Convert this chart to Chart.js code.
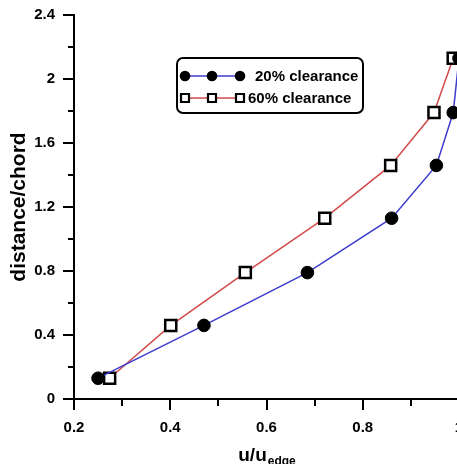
<!DOCTYPE html>
<html>
<head>
<meta charset="utf-8">
<script src="https://cdn.jsdelivr.net/npm/chart.js@4/dist/chart.umd.min.js"></script>
<style>
  html, body { margin: 0; padding: 0; background: #fff; overflow: hidden; }
  #wrap { width: 457px; height: 464px; overflow: hidden; }
</style>
</head>
<body>
<div id="wrap"><canvas id="chart" width="475" height="464"></canvas></div>
<script>
// distance/chord at each measured station (same for both runs)
const distance = [0.13, 0.46, 0.79, 1.13, 1.46, 1.79, 2.13];
// u/u_edge
const clearance20 = [0.25, 0.47, 0.685, 0.86, 0.953, 0.988, 1.0];
const clearance60 = [0.274, 0.401, 0.556, 0.721, 0.858, 0.948, 0.988];
const seriesLabels = ["20% clearance", "60% clearance"];

const xTickValues = [0.2, 0.4, 0.6, 0.8, 1.0];
const xTickLabels = ["0.2", "0.4", "0.6", "0.8", "1"];
const yTickValues = [0, 0.4, 0.8, 1.2, 1.6, 2.0, 2.4];
const yTickLabels = ["0", "0.4", "0.8", "1.2", "1.6", "2", "2.4"];

const FONT = "'Liberation Sans', Arial, sans-serif";

function labelFor(values, labels, v) {
  for (let i = 0; i < values.length; i++) {
    if (Math.abs(values[i] - v) < 1e-6) return labels[i];
  }
  return "";
}

function points(xs, ys) {
  return xs.map((x, i) => ({ x: x, y: ys[i] }));
}

// major / minor tick marks, outside the axes
const tickMarks = {
  id: "tickMarks",
  afterDraw(chart) {
    const ctx = chart.ctx;
    const xs = chart.scales.x;
    const ys = chart.scales.y;
    ctx.save();
    ctx.strokeStyle = "#000";
    ctx.lineWidth = 2;
    xs.ticks.forEach((t) => {
      const px = Math.round(xs.getPixelForValue(t.value));
      const major = labelFor(xTickValues, xTickLabels, t.value) !== "";
      ctx.beginPath();
      ctx.moveTo(px, xs.top);
      ctx.lineTo(px, xs.top + (major ? 11 : 7));
      ctx.stroke();
    });
    ys.ticks.forEach((t) => {
      const py = Math.round(ys.getPixelForValue(t.value));
      const major = labelFor(yTickValues, yTickLabels, t.value) !== "";
      ctx.beginPath();
      ctx.moveTo(ys.right, py);
      ctx.lineTo(ys.right - (major ? 11 : 6), py);
      ctx.stroke();
    });
    ctx.restore();
  },
};

// x title with subscript
const xTitle = {
  id: "xTitle",
  afterDraw(chart) {
    const ctx = chart.ctx;
    const area = chart.chartArea;
    ctx.save();
    ctx.fillStyle = "#000";
    ctx.textBaseline = "alphabetic";
    ctx.font = "bold 19px " + FONT;
    const main = "u/u";
    const w1 = ctx.measureText(main).width;
    ctx.font = "bold 12px " + FONT;
    const sub = "edge";
    const w2 = ctx.measureText(sub).width;
    const x0 = (area.left + area.right) / 2 - (w1 + w2) / 2;
    ctx.font = "bold 19px " + FONT;
    ctx.fillText(main, x0, 461);
    ctx.font = "bold 12px " + FONT;
    ctx.fillText(sub, x0 + w1 + 1, 465);
    ctx.restore();
  },
};

// boxed legend with three markers per line
const boxLegend = {
  id: "boxLegend",
  afterDatasetsDraw(chart) {
    const ctx = chart.ctx;
    ctx.save();
    ctx.fillStyle = "#fff";
    ctx.strokeStyle = "#000";
    ctx.lineWidth = 2;
    ctx.beginPath();
    ctx.roundRect(177, 58, 186, 55, 6);
    ctx.fill();
    ctx.stroke();

    chart.data.datasets.forEach((ds, i) => {
      const y = 76 + i * 22;
      ctx.strokeStyle = ds.borderColor;
      ctx.lineWidth = 1.5;
      ctx.beginPath();
      ctx.moveTo(185, y);
      ctx.lineTo(240, y);
      ctx.stroke();
      [185, 212, 240].forEach((mx) => {
        ctx.beginPath();
        if (ds.pointStyle === "circle") {
          ctx.fillStyle = "#000";
          ctx.arc(mx, y, 5.3, 0, Math.PI * 2);
          ctx.fill();
        } else {
          ctx.fillStyle = "#fff";
          ctx.strokeStyle = "#000";
          ctx.lineWidth = 2.2;
          ctx.rect(mx - 4, y - 4, 8, 8);
          ctx.fill();
          ctx.stroke();
        }
      });
      ctx.fillStyle = "#000";
      ctx.font = "bold 15px " + FONT;
      ctx.textBaseline = "middle";
      ctx.fillText(ds.label, i === 0 ? 255 : 248, y + 1);
    });
    ctx.restore();
  },
};

new Chart(document.getElementById("chart"), {
  type: "scatter",
  data: {
    datasets: [
      {
        label: seriesLabels[0],
        data: points(clearance20, distance),
        showLine: true,
        borderColor: "rgb(60, 60, 205)",
        borderWidth: 1.5,
        pointStyle: "circle",
        pointRadius: 6.3,
        pointBackgroundColor: "#000",
        pointBorderColor: "#000",
        pointBorderWidth: 1,
        clip: false,
      },
      {
        label: seriesLabels[1],
        data: points(clearance60, distance),
        showLine: true,
        borderColor: "rgb(210, 75, 75)",
        borderWidth: 1.5,
        pointStyle: "rect",
        pointRadius: 7.8,
        pointBackgroundColor: "#fff",
        pointBorderColor: "#000",
        pointBorderWidth: 2.5,
        clip: false,
      },
    ],
  },
  options: {
    responsive: false,
    animation: false,
    devicePixelRatio: 1,
    layout: { padding: { top: 15, right: 16, left: 0, bottom: 0 } },
    plugins: {
      legend: { display: false },
      tooltip: { enabled: false },
    },
    scales: {
      x: {
        type: "linear",
        min: 0.2,
        max: 1.0,
        // invisible tick marks only push the labels away from the axis
        grid: {
          drawOnChartArea: false,
          color: "transparent",
          tickColor: "transparent",
          tickLength: 20,
        },
        border: { display: true, color: "#000", width: 2 },
        ticks: {
          stepSize: 0.1,
          autoSkip: false,
          maxRotation: 0,
          padding: 0,
          color: "#000",
          font: { family: FONT, size: 15, weight: "bold" },
          callback: (v) => labelFor(xTickValues, xTickLabels, v),
        },
        afterFit: (scale) => {
          scale.height = 65;
        },
      },
      y: {
        type: "linear",
        min: 0,
        max: 2.4,
        grid: {
          drawOnChartArea: false,
          color: "transparent",
          tickColor: "transparent",
          tickLength: 19,
        },
        border: { display: true, color: "#000", width: 2 },
        title: {
          display: true,
          text: "distance/chord",
          color: "#000",
          font: { family: FONT, size: 21, weight: "bold" },
          padding: { top: 7, bottom: 0 },
        },
        ticks: {
          stepSize: 0.2,
          autoSkip: false,
          padding: 0,
          color: "#000",
          font: { family: FONT, size: 15, weight: "bold" },
          callback: (v) => labelFor(yTickValues, yTickLabels, v),
        },
        afterFit: (scale) => {
          scale.width = 74;
        },
      },
    },
  },
  plugins: [tickMarks, xTitle, boxLegend],
});
</script>
</body>
</html>
